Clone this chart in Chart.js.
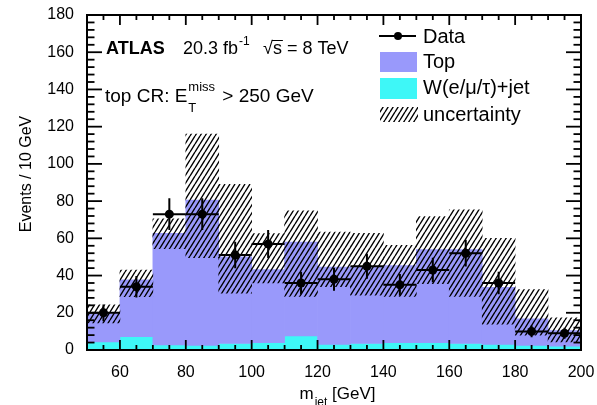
<!DOCTYPE html>
<html>
<head>
<meta charset="utf-8">
<script src="https://cdn.jsdelivr.net/npm/chart.js@4.4.1/dist/chart.umd.min.js"></script>
<style>
  html, body { margin: 0; padding: 0; background: #fff; }
</style>
</head>
<body>
<canvas id="c" width="597" height="405"></canvas>
<script>
// m_jet bins, 10 GeV wide
var binCenters = [55, 65, 75, 85, 95, 105, 115, 125, 135, 145, 155, 165, 175, 185, 195];
var binHalfWidth = 5;
var wjetValues = [4.3, 7.2, 2.7, 2.5, 3.5, 4, 7.5, 3, 3.5, 4, 4, 3.5, 3, 2.5, 2];
var topValues = [15.3, 30.5, 60, 78, 46.5, 39.2, 50.5, 41.5, 41.5, 41.4, 50, 50.5, 30.7, 14.2, 8.5];
var uncHigh = [24.3, 43, 70.5, 116, 89, 62.5, 74.8, 63.4, 62.7, 56.2, 71.7, 75.3, 60, 32.4, 17.3];
var uncLow = [14.6, 28.6, 54.4, 49.6, 30.6, 36, 28.8, 34, 29.5, 28.8, 35.7, 28.8, 13.9, 8, 4.3];
var dataValues = [20, 34, 73, 73, 51, 57, 36, 38, 45, 35, 43, 52, 36, 10, 9];
var dataErrors = [4.5, 5.8, 8.5, 8.5, 7.1, 7.5, 6, 6.2, 6.7, 5.9, 6.6, 7.2, 6, 3.2, 3];
var xTickLabels = [60, 80, 100, 120, 140, 160, 180, 200];

var FONT = '"Liberation Sans", Arial, Helvetica, sans-serif';
var TOP_COLOR = '#9999fb';
var WJET_COLOR = '#3ef7f7';

var canvas = document.getElementById('c');
var mainCtx = canvas.getContext('2d');

function makeHatch() {
    var t = document.createElement('canvas');
    t.width = 5; t.height = 8;
    var g = t.getContext('2d');
    g.strokeStyle = '#000';
    g.lineWidth = 1.4;
    g.beginPath();
    for (var k = -1; k <= 1; k++) {
        g.moveTo(k * 5, 8);
        g.lineTo(k * 5 + 5, 0);
    }
    g.stroke();
    return mainCtx.createPattern(t, 'repeat');
}
var hatch = makeHatch();

// floating bars built from the arrays above
var wjetBars = binCenters.map(function (c, i) { return { x: c, y: [0, wjetValues[i]] }; });
var topBars = binCenters.map(function (c, i) { return { x: c, y: [wjetValues[i], wjetValues[i] + topValues[i]] }; });
var uncBars = binCenters.map(function (c, i) { return { x: c, y: [uncLow[i], uncHigh[i]] }; });
var dataPoints = binCenters.map(function (c, i) { return { x: c, y: dataValues[i] }; });

var errorBars = {
    id: 'errorBars',
    afterDatasetsDraw: function (chart) {
        var ctx = chart.ctx, xs = chart.scales.x, ys = chart.scales.y;
        ctx.save();
        ctx.strokeStyle = '#000';
        ctx.lineWidth = 2;
        binCenters.forEach(function (c, i) {
            var px = xs.getPixelForValue(c);
            var py = ys.getPixelForValue(dataValues[i]);
            ctx.beginPath();
            ctx.moveTo(xs.getPixelForValue(c - binHalfWidth), py);
            ctx.lineTo(xs.getPixelForValue(c + binHalfWidth), py);
            ctx.moveTo(px, ys.getPixelForValue(dataValues[i] - dataErrors[i]));
            ctx.lineTo(px, ys.getPixelForValue(dataValues[i] + dataErrors[i]));
            ctx.stroke();
        });
        ctx.restore();
    }
};

// box with inward ticks on all four sides
var boxTicks = {
    id: 'boxTicks',
    afterDraw: function (chart) {
        var a = chart.chartArea, ctx = chart.ctx, xs = chart.scales.x, ys = chart.scales.y;
        ctx.save();
        ctx.fillStyle = '#000';
        for (var v = 50; v <= 200; v += 5) {
            var len = (v % 20 === 0) ? 10 : 5;
            var px = xs.getPixelForValue(v);
            ctx.fillRect(px - 0.9, a.bottom - len, 1.8, len);
            ctx.fillRect(px - 0.9, a.top, 1.8, len);
        }
        for (var w = 0; w <= 180; w += 4) {
            var tl = (w % 20 === 0) ? 15 : 7.5;
            var py = ys.getPixelForValue(w);
            ctx.fillRect(a.left, py - 0.9, tl, 1.8);
            ctx.fillRect(a.right - tl, py - 0.9, tl, 1.8);
        }
        ctx.strokeStyle = '#000';
        ctx.lineWidth = 2;
        ctx.strokeRect(a.left, a.top, a.right - a.left, a.bottom - a.top);
        ctx.restore();
    }
};

var labels = {
    id: 'labels',
    afterDraw: function (chart) {
        var ctx = chart.ctx;
        ctx.save();
        ctx.fillStyle = '#000';
        ctx.strokeStyle = '#000';
        ctx.textBaseline = 'middle';
        ctx.textAlign = 'left';

        // ATLAS label line
        ctx.font = 'bold 18px ' + FONT;
        ctx.fillText('ATLAS', 106, 49);
        ctx.font = '18px ' + FONT;
        ctx.fillText('20.3 fb', 183, 49);
        var x = 183 + ctx.measureText('20.3 fb').width;
        ctx.font = '12px ' + FONT;
        ctx.fillText('-1', x + 1, 42);
        ctx.font = '18px ' + FONT;
        ctx.fillText('\u221A', 263, 49);
        var sx = 263 + ctx.measureText('\u221A').width;
        ctx.fillText('s = 8 TeV', sx, 49);
        ctx.lineWidth = 1;
        ctx.beginPath();
        ctx.moveTo(sx - 1, 40.5); ctx.lineTo(sx + ctx.measureText('s').width + 1, 40.5);
        ctx.stroke();

        // region label
        ctx.font = '19px ' + FONT;
        ctx.fillText('top CR: E', 105, 97);
        x = 105 + ctx.measureText('top CR: E').width;
        ctx.font = '13px ' + FONT;
        ctx.fillText('miss', x + 1, 87);
        ctx.fillText('T', x + 1, 108);
        x += ctx.measureText('miss').width + 3;
        ctx.font = '19px ' + FONT;
        ctx.fillText(' > 250 GeV', x, 97);

        // legend
        ctx.font = '20px ' + FONT;
        ctx.lineWidth = 2;
        ctx.beginPath();
        ctx.moveTo(379, 36); ctx.lineTo(416, 36);
        ctx.stroke();
        ctx.beginPath();
        ctx.arc(398, 36, 4, 0, Math.PI * 2);
        ctx.fill();
        ctx.fillText('Data', 423, 37);
        ctx.fillStyle = TOP_COLOR;
        ctx.fillRect(380, 52, 37, 20);
        ctx.fillStyle = '#000';
        ctx.fillText('Top', 423, 62);
        ctx.fillStyle = WJET_COLOR;
        ctx.fillRect(380, 78, 37, 21);
        ctx.fillStyle = '#000';
        ctx.fillText('W(e/\u03BC/\u03C4)+jet', 423, 88);
        ctx.fillStyle = hatch;
        ctx.fillRect(380, 107, 38, 15);
        ctx.fillStyle = '#000';
        ctx.fillText('uncertainty', 423, 115);

        // axis titles
        ctx.font = '17px ' + FONT;
        var t1 = 'm', t2 = 'jet', t3 = ' [GeV]';
        var w1 = ctx.measureText(t1).width, w3 = ctx.measureText(t3).width;
        ctx.font = '12px ' + FONT;
        var w2 = ctx.measureText(t2).width;
        var x0 = 337 - (w1 + w2 + w3) / 2;
        ctx.font = '17px ' + FONT;
        ctx.fillText(t1, x0, 394);
        ctx.fillText(t3, x0 + w1 + w2 + 1, 394);
        ctx.font = '12px ' + FONT;
        ctx.fillText(t2, x0 + w1 + 1, 403);

        ctx.translate(27, 174);
        ctx.rotate(-Math.PI / 2);
        ctx.textAlign = 'center';
        ctx.font = '16px ' + FONT;
        ctx.fillText('Events / 10 GeV', 0, 0);
        ctx.restore();
    }
};

new Chart(canvas, {
    type: 'bar',
    data: {
        datasets: [
            {
                type: 'scatter',
                label: 'Data',
                data: dataPoints,
                backgroundColor: '#000',
                borderColor: '#000',
                pointRadius: 4.5,
                pointBorderWidth: 0,
                showLine: false,
                order: 0
            },
            {
                label: 'uncertainty',
                data: uncBars,
                backgroundColor: hatch,
                borderWidth: 0,
                barPercentage: 1,
                categoryPercentage: 1,
                order: 1
            },
            {
                label: 'Top',
                data: topBars,
                backgroundColor: TOP_COLOR,
                borderWidth: 0,
                barPercentage: 1,
                categoryPercentage: 1,
                order: 2
            },
            {
                label: 'W(e/\u03BC/\u03C4)+jet',
                data: wjetBars,
                backgroundColor: WJET_COLOR,
                borderWidth: 0,
                barPercentage: 1,
                categoryPercentage: 1,
                order: 3
            }
        ]
    },
    options: {
        responsive: false,
        devicePixelRatio: 1,
        animation: false,
        events: [],
        grouped: false,
        layout: { padding: { top: 15, right: 16, left: 0, bottom: 0 } },
        plugins: {
            legend: { display: false },
            tooltip: { enabled: false }
        },
        scales: {
            x: {
                type: 'linear',
                min: 50,
                max: 200,
                offset: false,
                grid: { display: false },
                border: { display: false },
                afterBuildTicks: function (scale) {
                    scale.ticks = xTickLabels.map(function (v) { return { value: v }; });
                },
                afterFit: function (scale) {
                    scale.height = 55;
                    scale.paddingLeft = 0;
                    scale.paddingRight = 0;
                },
                ticks: {
                    color: '#000',
                    padding: 5,
                    maxRotation: 0,
                    font: { family: FONT, size: 16 }
                }
            },
            y: {
                min: 0,
                max: 180,
                grid: { display: false },
                border: { display: false },
                afterFit: function (scale) {
                    scale.width = 87;
                    scale.paddingTop = 0;
                    scale.paddingBottom = 0;
                },
                ticks: {
                    stepSize: 20,
                    color: '#000',
                    padding: 5,
                    font: { family: FONT, size: 16 }
                }
            }
        }
    },
    plugins: [errorBars, boxTicks, labels]
});
</script>
</body>
</html>
